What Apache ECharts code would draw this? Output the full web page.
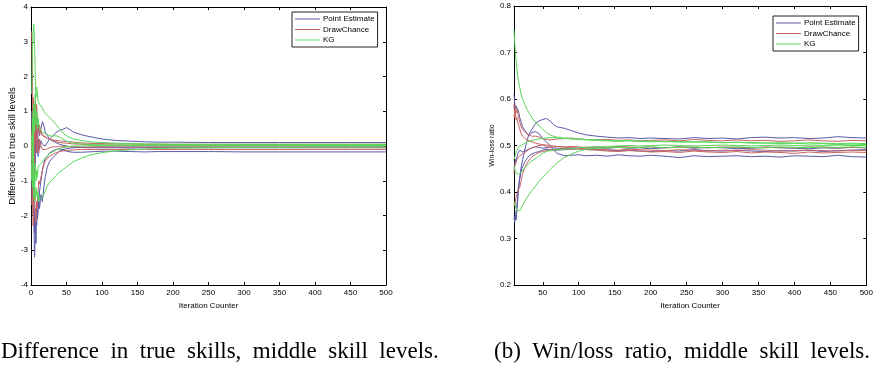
<!DOCTYPE html>
<html>
<head>
<meta charset="utf-8">
<script src="https://cdn.jsdelivr.net/npm/echarts@6/dist/echarts.min.js"></script>
<style>
html,body{margin:0;padding:0;background:#fff;}
#main{width:876px;height:368px;}
</style>
</head>
<body>
<div id="main"></div>
<script>
// x positions (iteration counter)
var xsLeft = [1,2,3,4,5,6,7,8,9,10,11,12,14,16,18,20,23,26,30,35,40,45,50,55,60,70,80,90,100,120,140,160,180,200,250,300,350,400,450,500];
// x positions
var xsRight = [10,11,12,13,14,15,16,18,20,22,25,28,31,35,40,45,50,55,60,65,70,80,90,100,110,125,140,155,170,185,200,220,240,260,280,300,320,340,360,380,400,420,440,460,480,500];

// (a) difference in true skill levels
var pointLeft1 = [0.3,-0.8,1.1,-1.4,0.6,-0.5,0.9,-0.2,0.4,-0.3,0.2,-0.1,0.15,0.05,0.02,0.0,0.1,0.2,0.28,0.38,0.45,0.48,0.53,0.47,0.4,0.33,0.28,0.24,0.2,0.16,0.14,0.12,0.11,0.11,0.1,0.1,0.1,0.1,0.1,0.1];
var pointLeft2 = [-0.5,-1.5,-0.8,-2.2,-3.2,-2.6,-2.0,-2.3,-1.8,-1.5,-1.7,-1.3,-1.0,-0.7,-0.5,-0.35,-0.3,-0.2,-0.15,-0.1,-0.08,-0.12,-0.15,-0.17,-0.18,-0.18,-0.17,-0.16,-0.15,-0.15,-0.16,-0.17,-0.16,-0.16,-0.16,-0.17,-0.17,-0.17,-0.17,-0.17];
var pointLeft3 = [1.0,-0.5,0.8,1.2,-0.6,0.3,1.0,0.5,0.2,0.4,0.6,0.3,0.5,0.7,0.6,0.4,0.3,0.2,0.15,0.1,0.05,0.02,0.0,-0.02,-0.03,-0.04,-0.05,-0.05,-0.05,-0.05,-0.06,-0.05,-0.05,-0.05,-0.05,-0.05,-0.05,-0.05,-0.05,-0.05];
var pointLeft4 = [-1.0,0.5,-2.0,-1.2,-2.5,-1.8,-2.8,-1.6,-2.1,-1.9,-1.6,-1.8,-1.4,-1.6,-1.2,-0.9,-0.6,-0.45,-0.35,-0.25,-0.15,-0.1,-0.08,-0.06,-0.05,-0.04,-0.04,-0.03,-0.03,-0.03,-0.03,-0.03,-0.03,-0.03,-0.03,-0.03,-0.03,-0.03,-0.03,-0.03];
var drawLeft1 = [3.3,2.2,0.5,-1.0,0.8,1.3,1.0,1.2,0.8,0.6,0.5,0.6,0.4,0.3,0.35,0.25,0.22,0.2,0.18,0.16,0.15,0.14,0.13,0.12,0.11,0.09,0.08,0.07,0.07,0.06,0.06,0.05,0.05,0.05,0.05,0.05,0.05,0.05,0.05,0.05];
var drawLeft2 = [-1.7,-0.6,-2.3,-1.0,-1.5,-1.9,-2.2,-1.6,-1.8,-1.3,-1.0,-1.1,-0.9,-0.7,-0.55,-0.45,-0.35,-0.3,-0.25,-0.2,-0.16,-0.14,-0.13,-0.12,-0.11,-0.1,-0.1,-0.1,-0.1,-0.1,-0.1,-0.1,-0.1,-0.1,-0.1,-0.1,-0.1,-0.1,-0.1,-0.1];
var drawLeft3 = [0.4,-0.9,1.4,0.5,-0.5,0.8,0.3,-0.2,0.5,0.1,-0.2,0.2,0.0,-0.1,-0.05,-0.1,-0.08,-0.05,-0.03,-0.02,-0.02,-0.02,-0.02,-0.02,-0.02,-0.03,-0.03,-0.03,-0.03,-0.03,-0.03,-0.03,-0.03,-0.03,-0.03,-0.03,-0.03,-0.03,-0.03,-0.03];
var drawLeft4 = [-0.3,1.0,-0.8,0.6,1.2,0.2,0.9,0.6,0.3,0.7,0.5,0.35,0.45,0.3,0.25,0.28,0.22,0.2,0.17,0.12,0.1,0.09,0.08,0.07,0.06,0.05,0.04,0.03,0.03,0.02,0.02,0.02,0.02,0.02,0.02,0.02,0.02,0.02,0.02,0.02];
var kgLeft1 = [1.5,2.8,3.3,3.5,3.0,2.0,1.4,1.7,1.5,1.3,1.35,1.2,1.15,1.1,1.0,0.95,0.88,0.82,0.75,0.62,0.5,0.38,0.3,0.24,0.2,0.16,0.13,0.11,0.1,0.08,0.07,0.06,0.06,0.05,0.05,0.05,0.05,0.05,0.05,0.05];
var kgLeft2 = [-0.5,-1.2,-0.3,-1.5,-0.9,-1.6,-1.2,-1.4,-1.5,-1.3,-1.6,-1.5,-1.55,-1.5,-1.4,-1.3,-1.15,-1.05,-0.98,-0.85,-0.75,-0.68,-0.6,-0.52,-0.45,-0.36,-0.28,-0.23,-0.19,-0.14,-0.11,-0.09,-0.07,-0.06,-0.05,-0.04,-0.04,-0.03,-0.03,-0.03];
var kgLeft3 = [0.3,-0.4,1.0,-0.8,-1.2,-0.5,-1.0,-0.7,-0.9,-0.6,-0.65,-0.55,-0.5,-0.45,-0.4,-0.35,-0.28,-0.22,-0.18,-0.12,-0.08,-0.05,-0.03,-0.01,0.0,0.0,0.01,0.01,0.01,0.01,0.01,0.01,0.01,0.01,0.01,0.01,0.01,0.01,0.01,0.01];
var kgLeft4 = [-1.0,0.8,-0.5,1.2,0.4,1.5,0.6,1.0,0.5,0.8,0.6,0.5,0.45,0.4,0.38,0.35,0.33,0.3,0.28,0.3,0.26,0.2,0.14,0.1,0.08,0.06,0.05,0.04,0.03,0.03,0.03,0.03,0.03,0.03,0.03,0.03,0.03,0.03,0.03,0.03];

// (b) win/loss ratio
var pointRight1 = [0.345,0.335,0.35,0.34,0.36,0.38,0.40,0.43,0.455,0.47,0.49,0.51,0.525,0.535,0.548,0.553,0.556,0.558,0.553,0.545,0.54,0.537,0.532,0.527,0.523,0.52,0.518,0.516,0.517,0.515,0.516,0.515,0.514,0.517,0.515,0.516,0.514,0.517,0.518,0.516,0.517,0.515,0.516,0.519,0.517,0.516];
var pointRight2 = [0.61,0.59,0.58,0.585,0.588,0.582,0.575,0.56,0.55,0.54,0.533,0.525,0.522,0.528,0.53,0.525,0.515,0.508,0.5,0.49,0.483,0.478,0.479,0.48,0.478,0.479,0.477,0.48,0.478,0.477,0.479,0.477,0.474,0.478,0.476,0.477,0.478,0.476,0.477,0.475,0.478,0.477,0.476,0.479,0.476,0.475];
var pointRight3 = [0.35,0.345,0.34,0.36,0.37,0.39,0.41,0.43,0.445,0.455,0.465,0.472,0.478,0.482,0.485,0.487,0.49,0.492,0.491,0.49,0.49,0.491,0.492,0.493,0.492,0.491,0.49,0.489,0.49,0.488,0.487,0.489,0.488,0.491,0.489,0.488,0.49,0.488,0.487,0.489,0.488,0.49,0.487,0.489,0.49,0.491];
var pointRight4 = [0.45,0.46,0.47,0.465,0.475,0.48,0.485,0.49,0.488,0.486,0.488,0.49,0.493,0.495,0.497,0.496,0.494,0.495,0.496,0.495,0.494,0.493,0.495,0.494,0.496,0.495,0.494,0.496,0.494,0.495,0.493,0.495,0.497,0.494,0.496,0.495,0.493,0.494,0.496,0.495,0.494,0.493,0.495,0.494,0.496,0.495];
var drawRight1 = [0.59,0.56,0.575,0.58,0.57,0.575,0.565,0.55,0.54,0.535,0.53,0.525,0.522,0.52,0.52,0.518,0.515,0.513,0.512,0.513,0.514,0.515,0.516,0.514,0.513,0.512,0.513,0.511,0.512,0.51,0.511,0.512,0.51,0.513,0.511,0.51,0.512,0.51,0.511,0.509,0.51,0.512,0.51,0.509,0.511,0.51];
var drawRight2 = [0.44,0.455,0.46,0.465,0.47,0.472,0.475,0.478,0.48,0.483,0.485,0.488,0.492,0.495,0.498,0.5,0.501,0.498,0.496,0.497,0.498,0.496,0.495,0.494,0.493,0.492,0.491,0.49,0.492,0.491,0.49,0.489,0.491,0.49,0.488,0.49,0.489,0.491,0.49,0.488,0.489,0.49,0.489,0.488,0.49,0.489];
var drawRight3 = [0.375,0.37,0.38,0.39,0.395,0.4,0.405,0.41,0.425,0.44,0.452,0.462,0.469,0.476,0.481,0.485,0.487,0.489,0.49,0.491,0.492,0.493,0.492,0.493,0.491,0.49,0.488,0.487,0.489,0.488,0.486,0.487,0.485,0.488,0.486,0.485,0.487,0.484,0.486,0.485,0.483,0.486,0.484,0.485,0.486,0.485];
var drawRight4 = [0.56,0.575,0.57,0.555,0.56,0.55,0.545,0.535,0.525,0.52,0.515,0.512,0.51,0.508,0.505,0.503,0.502,0.501,0.5,0.499,0.498,0.497,0.498,0.497,0.496,0.497,0.496,0.498,0.497,0.496,0.497,0.495,0.497,0.496,0.495,0.497,0.496,0.495,0.497,0.496,0.495,0.497,0.496,0.495,0.496,0.495];
var kgRight1 = [0.748,0.72,0.7,0.68,0.665,0.65,0.64,0.625,0.61,0.6,0.588,0.578,0.57,0.56,0.55,0.542,0.535,0.528,0.523,0.52,0.518,0.516,0.515,0.514,0.513,0.512,0.511,0.51,0.511,0.509,0.51,0.508,0.509,0.507,0.508,0.506,0.507,0.505,0.506,0.504,0.505,0.503,0.504,0.502,0.503,0.502];
var kgRight2 = [0.38,0.375,0.37,0.365,0.36,0.358,0.356,0.36,0.365,0.372,0.38,0.388,0.395,0.403,0.413,0.423,0.432,0.44,0.448,0.456,0.463,0.474,0.482,0.488,0.492,0.494,0.495,0.496,0.495,0.496,0.497,0.495,0.496,0.497,0.495,0.496,0.497,0.496,0.495,0.497,0.496,0.495,0.497,0.496,0.497,0.496];
var kgRight3 = [0.455,0.45,0.445,0.44,0.438,0.437,0.438,0.44,0.443,0.447,0.452,0.457,0.462,0.467,0.472,0.478,0.483,0.487,0.489,0.49,0.491,0.492,0.493,0.495,0.496,0.497,0.498,0.499,0.5,0.499,0.5,0.501,0.5,0.499,0.5,0.501,0.5,0.499,0.5,0.501,0.5,0.499,0.5,0.501,0.5,0.5];
var kgRight4 = [0.47,0.475,0.48,0.485,0.49,0.492,0.495,0.498,0.5,0.503,0.505,0.507,0.509,0.511,0.513,0.514,0.515,0.516,0.517,0.517,0.516,0.515,0.514,0.513,0.512,0.511,0.51,0.509,0.51,0.509,0.508,0.509,0.507,0.508,0.507,0.506,0.507,0.506,0.505,0.506,0.505,0.506,0.505,0.504,0.505,0.504];

// tick labels
var ticksXLeft = [0,50,100,150,200,250,300,350,400,450,500];
var ticksXRight = [50,100,150,200,250,300,350,400,450,500];
var ticksYLeft = [-4,-3,-2,-1,0,1,2,3,4];
var ticksYRight = [0.2,0.3,0.4,0.5,0.6,0.7,0.8];

var names = ['Point Estimate', 'DrawChance', 'KG'];
var colors = {'Point Estimate': '#5a5aa8', 'DrawChance': '#c86464', 'KG': '#58d858'};

var chart = echarts.init(document.getElementById('main'));

function mkSeries(name, xs, ys, idx) {
    return {
        name: name,
        type: 'line',
        xAxisIndex: idx,
        yAxisIndex: idx,
        symbol: 'none',
        silent: true,
        color: colors[name],
        lineStyle: {width: 1, color: colors[name]},
        itemStyle: {color: colors[name]},
        data: xs.map(function (x, i) { return [x, ys[i]]; })
    };
}

var series = [
    mkSeries('Point Estimate', xsLeft, pointLeft1, 0),
    mkSeries('Point Estimate', xsLeft, pointLeft2, 0),
    mkSeries('Point Estimate', xsLeft, pointLeft3, 0),
    mkSeries('Point Estimate', xsLeft, pointLeft4, 0),
    mkSeries('DrawChance', xsLeft, drawLeft1, 0),
    mkSeries('DrawChance', xsLeft, drawLeft2, 0),
    mkSeries('DrawChance', xsLeft, drawLeft3, 0),
    mkSeries('DrawChance', xsLeft, drawLeft4, 0),
    mkSeries('KG', xsLeft, kgLeft1, 0),
    mkSeries('KG', xsLeft, kgLeft2, 0),
    mkSeries('KG', xsLeft, kgLeft3, 0),
    mkSeries('KG', xsLeft, kgLeft4, 0),
    mkSeries('Point Estimate', xsRight, pointRight1, 1),
    mkSeries('Point Estimate', xsRight, pointRight2, 1),
    mkSeries('Point Estimate', xsRight, pointRight3, 1),
    mkSeries('Point Estimate', xsRight, pointRight4, 1),
    mkSeries('DrawChance', xsRight, drawRight1, 1),
    mkSeries('DrawChance', xsRight, drawRight2, 1),
    mkSeries('DrawChance', xsRight, drawRight3, 1),
    mkSeries('DrawChance', xsRight, drawRight4, 1),
    mkSeries('KG', xsRight, kgRight1, 1),
    mkSeries('KG', xsRight, kgRight2, 1),
    mkSeries('KG', xsRight, kgRight3, 1),
    mkSeries('KG', xsRight, kgRight4, 1)
];

var font = 'Liberation Sans, Arial, sans-serif';
var lbl = {fontSize: 8, color: '#000', fontFamily: font, margin: 4};
var line = {show: true, onZero: false, lineStyle: {color: '#000', width: 1}};

// main x/y axes plus mirrored ones (top/right) for the matlab box look
function xAx(grid, min, ticks, main) {
    return {
        type: 'value', gridIndex: grid, min: min, max: 500,
        position: main ? 'bottom' : 'top',
        name: main ? 'Iteration Counter' : '',
        nameLocation: 'middle', nameGap: 14,
        nameTextStyle: {fontSize: 8, color: '#000', fontFamily: font},
        axisLine: line,
        axisTick: {show: true, inside: true, length: 3, customValues: ticks, lineStyle: {color: '#000'}},
        axisLabel: Object.assign({show: main, customValues: ticks}, lbl),
        splitLine: {show: false}
    };
}
function yAx(grid, min, max, ticks, main, name, nameSize, nameGap) {
    return {
        type: 'value', gridIndex: grid, min: min, max: max,
        position: main ? 'left' : 'right',
        name: main ? name : '',
        nameLocation: 'middle', nameGap: nameGap, nameRotate: 90,
        nameTextStyle: {fontSize: nameSize, color: '#000', fontFamily: font},
        axisLine: line,
        axisTick: {show: true, inside: true, length: 3, customValues: ticks, lineStyle: {color: '#000'}},
        axisLabel: Object.assign({show: main, customValues: ticks, margin: 3,
            formatter: function (v) { return grid === 1 ? v.toFixed(1) : String(v); }}, {fontSize: 8, color: '#000', fontFamily: font}),
        splitLine: {show: false}
    };
}

var legendBase = {
    data: names.map(function (n) { return {name: n, itemStyle: {color: colors[n]}}; }),
    orient: 'vertical', itemWidth: 25, itemHeight: 8, itemGap: 2.5,
    padding: [3, 3], borderColor: '#222', borderWidth: 1, backgroundColor: '#fff',
    icon: 'path://M0,4L25,4L25,5L0,5Z', selectedMode: false,
    textStyle: {fontSize: 8, color: '#000', fontFamily: font, padding: [0, 0, 0, -2]}
};

var option = {
    animation: false,
    backgroundColor: '#fff',
    grid: [
        {left: 31, top: 7, width: 355, height: 278},
        {left: 514, top: 6, width: 354, height: 279}
    ],
    legend: [
        Object.assign({left: 292, top: 12}, legendBase),
        Object.assign({left: 773, top: 16}, legendBase)
    ],
    xAxis: [xAx(0, 0, ticksXLeft, true), xAx(1, 10, ticksXRight, true), xAx(0, 0, ticksXLeft, false), xAx(1, 10, ticksXRight, false)],
    yAxis: [
        yAx(0, -4, 4, ticksYLeft, true, 'Difference in true skill levels', 9.5, 10),
        yAx(1, 0.2, 0.8, ticksYRight, true, 'Win-loss ratio', 7, 16),
        yAx(0, -4, 4, ticksYLeft, false, '', 8, 10),
        yAx(1, 0.2, 0.8, ticksYRight, false, '', 8, 10)
    ],
    series: series,
    graphic: [
        {type: 'text', left: 1, top: 340, style: {text: 'Difference  in  true  skills,  middle  skill  levels.', font: '23px "Liberation Serif", "Times New Roman", serif', fill: '#000'}},
        {type: 'text', left: 494, top: 340, style: {text: '(b)  Win/loss  ratio,  middle  skill  levels.', font: '23px "Liberation Serif", "Times New Roman", serif', fill: '#000'}}
    ]
};

chart.setOption(option);
window.onresize = function () { chart.resize(); };
</script>
</body>
</html>
